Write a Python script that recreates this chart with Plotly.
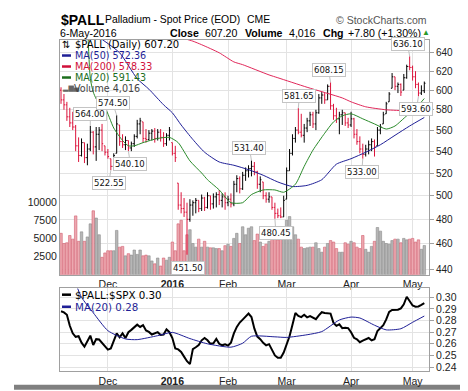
import math
import pandas as pd
import plotly.graph_objects as go

# ---------------- data ----------------
HOLIDAYS = ["2015-11-26", "2015-12-25", "2016-01-01", "2016-01-18", "2016-02-15", "2016-03-25"]
dates = [d.strftime("%Y-%m-%d") for d in pd.bdate_range("2015-11-06", "2016-05-06")
         if d.strftime("%Y-%m-%d") not in HOLIDAYS]

opens = [600, 590, 585, 573, 567, 563, 545, 536, 548, 534, 542, 558, 544, 556, 560, 545,
         539, 533, 526, 538, 565, 549, 546, 550, 543, 547, 554, 566, 568, 552, 551, 557, 559, 552, 558, 553, 547, 555,
         548, 538, 511, 492, 489, 486, 480, 492, 494, 496, 489, 498, 490, 500, 493, 499, 501, 496, 499,
         494, 497, 493, 510, 515, 506, 518, 522, 524, 526, 521, 510, 512, 500, 497, 499, 490, 485, 483, 482,
         497, 522, 538, 552, 560, 558, 555, 562, 569, 575, 566, 577, 592, 595, 590, 604, 584, 574, 571, 575, 577, 567,
         565, 571, 556, 549, 542, 537, 542, 546, 549, 545, 560, 566, 576, 588, 602, 614, 604, 606, 600, 613, 625,
         624, 614, 606, 597, 599.4]
highs = [603, 596, 588, 582, 578, 565, 553, 552, 548, 547, 564, 559, 563, 563, 566, 545,
         542, 533, 538, 574.5, 565, 556, 554, 550, 549, 556, 570, 572, 568, 561, 560, 561, 562, 561, 561, 558, 557, 563,
         548, 545, 511, 503, 498, 494, 497, 496, 498, 496, 501, 499, 503, 500, 502, 503, 505, 502, 503,
         500, 502, 513, 518, 517, 521, 525, 527, 531.4, 530, 522, 517, 512, 503, 503, 499, 494, 489, 490, 500,
         525, 542, 556, 563, 581.65, 576, 566, 572, 578, 578, 580, 596, 598, 597, 606, 608.15, 586, 582, 578, 580, 577, 572,
         578, 572, 561, 554, 547, 546, 550, 552, 551, 563, 566, 578, 588, 598, 618, 614, 608, 607, 617, 627, 636.1,
         626, 620, 608, 605, 609]
lows = [586, 580, 569, 563, 560, 540, 530, 535, 529, 527, 540, 537, 531, 541, 540, 536,
        533, 522.55, 524, 538, 545, 543, 541, 540.1, 540, 544, 552, 556, 548, 548, 550, 550, 548, 550, 549, 544, 545, 550,
        536, 530, 488, 485, 482, 451.5, 478, 483, 485, 486, 487, 487, 489, 488, 489, 490, 492, 490, 488,
        491, 490, 491, 503, 502, 505, 513, 516, 517, 518, 506, 503, 497, 494, 494, 488, 480.45, 481, 481, 482,
        497, 522, 536, 548, 556, 553, 548, 558, 564, 562, 560, 576, 586, 586, 590, 580, 570, 567, 556, 565, 564, 562,
        563, 552, 546, 538, 533.0, 535, 537, 540, 535, 545, 556, 566, 576, 588, 602, 600, 597, 594, 600, 612, 621,
        610, 602, 593.6, 595, 597]
closes = [590, 585, 573, 567, 563, 545, 536, 548, 534, 542, 558, 544, 556, 560, 547, 539,
          535, 526, 536, 566, 549, 546, 550, 543, 547, 554, 566, 569, 552, 551, 557, 559, 552, 558, 553, 547, 555, 560,
          538, 534, 492, 489, 486, 480, 492, 494, 496, 489, 498, 490, 500, 493, 499, 501, 496, 499, 494,
          497, 493, 510, 515, 506, 518, 522, 524, 526, 521, 510, 514, 500, 497, 499, 490, 485, 483, 482, 496,
          522, 538, 552, 560, 558, 555, 562, 569, 575, 566, 577, 592, 595, 590, 604, 584, 574, 571, 575, 577, 567, 565,
          571, 556, 549, 542, 537, 542, 546, 549, 544, 560, 563, 575, 586, 596, 614, 604, 606, 598, 613, 625, 624,
          614, 606, 597, 599.4, 607.2]
volumes = [5700, 4300, 4400, 5400, 4900, 8100, 4600, 5900, 4600, 5200, 7000, 8800, 7800, 5500, 2400, 3000,
           3300, 3300, 3300, 6100, 3800, 3900, 2600, 2900, 2700, 3400, 2800, 3400, 2600, 2700, 2600, 1900, 1500, 2300, 1200, 2300, 2000, 2400,
           4500, 3300, 7000, 7500, 3300, 5500, 6200, 4300, 3800, 4900, 3800, 4600, 3800, 3700, 3700, 3600, 3600, 3300, 4000,
           4200, 3900, 5000, 5700, 4300, 6600, 5500, 6400, 6600, 4700, 5600, 4500, 3900, 4200, 4600, 5800, 5400, 4800, 5500, 5800,
           7500, 8000, 6600, 5500, 4900, 3800, 3600, 3700, 3800, 3800, 4400, 3600, 3100, 3800, 4300, 4700, 4500, 3600, 3100, 3100, 4400, 4200,
           4600, 4400, 3800, 3600, 5400, 3500, 3100, 3900, 4600, 6500, 6000, 4600, 4300, 4200, 4700, 4900, 4900, 4400, 5000, 4800, 4900,
           5000, 4500, 4800, 3500, 4016]

ma50_idx = [14, 20, 26, 30, 35, 38, 41, 45, 49, 54, 59, 64, 69, 74, 79, 84, 89, 94, 99, 104, 109, 114, 119, 124]
ma50_val = [655, 640, 612, 601, 585, 577, 565, 551, 539, 530, 527, 523, 518, 512, 508, 509, 514, 528, 533, 539, 546, 555, 564, 572.36]
ma200_idx = [33, 40, 45, 48, 54, 59, 62, 71, 74, 84, 96, 99, 104, 111, 118, 124]
ma200_val = [668, 658, 653, 649, 640, 630, 627, 616, 613, 603, 592, 588, 583, 580, 579, 578.33]
ma20_idx = [9, 10, 11, 12, 13, 15, 18, 21, 23, 25, 28, 33, 37, 40, 44, 48, 50, 54, 58, 62,
            65, 69, 73, 76, 80, 83, 86, 90, 93, 96, 99, 103, 107, 111, 114, 118, 120, 124]
ma20_val = [680, 612, 598, 591, 586, 582, 562, 550, 545, 545, 548, 552, 553, 548, 531, 520, 514, 505, 494, 494,
            501, 505, 505, 503, 510, 526, 541, 557, 568, 574, 576, 571, 566, 561, 564, 574, 578, 591.43]

ratio = [.288, .287, .285, .2755, .269, .266, .2665, .261, .2575, .262, .267, .259, .264, .2637, .261, .258,
         .255, .256, .2625, .269, .2656, .269, .265, .270, .272, .274, .2765, .2745, .2761, .2715, .2702, .268, .269, .270, .2676, .268, .2725, .270,
         .265, .256, .2552, .253, .249, .245, .2425, .2555, .257, .259, .263, .265, .263, .260, .2605, .2642, .260, .2587, .2595,
         .2585, .261, .269, .2745, .2783, .2808, .2833, .286, .283, .273, .2662, .264, .2608, .2587, .2597, .2545, .250, .248, .248, .2525,
         .259, .2665, .2765, .2865, .284, .283, .285, .2828, .2838, .2825, .2812, .2845, .2872, .2865, .2865, .286, .278, .2755, .2768, .2735, .2738, .2735,
         .270, .2652, .2638, .2614, .2627, .2636, .265, .263, .264, .271, .2733, .276, .281, .2875, .2892, .2892, .2893, .2905, .294, .3005, .2966,
         .293, .292, .2922, .2935, .295]
rma_idx = [5, 7, 11, 16, 22, 26, 33, 38, 44, 50, 58, 62, 65, 73, 77, 84, 89, 95, 99, 102, 107, 111, 116, 120, 124]
rma_val = [0.312, 0.300, 0.2867, 0.2713, 0.2642, 0.2636, 0.2670, 0.2698, 0.2645, 0.2600, 0.2571, 0.2605, 0.2665,
           0.2660, 0.2655, 0.2678, 0.2705, 0.2805, 0.2830, 0.2822, 0.2760, 0.2720, 0.2730, 0.2785, 0.2839]

# labelled highs / lows: (bar index, 'H' or 'L')
marks = [(10, 'H'), (19, 'H'), (17, 'L'), (23, 'L'), (43, 'L'), (65, 'H'), (73, 'L'),
         (81, 'H'), (92, 'H'), (103, 'L'), (119, 'H'), (122, 'L')]

month_ticks = ["2015-12-01", "2016-01-04", "2016-02-01", "2016-03-01", "2016-04-01", "2016-05-02"]
month_text = ["Dec", "<b>2016</b>", "Feb", "Mar", "Apr", "May"]
price_ticks = [440, 460, 480, 500, 520, 540, 560, 580, 600, 620, 640]
vol_ticks = [2500, 5000, 7500, 10000]
vol_text = ["2500", "5000", "7500", "10000"]
ratio_ticks = [0.24, 0.25, 0.26, 0.27, 0.28, 0.29, 0.30]

# ---------------- style ----------------
W, H = 468, 391
L_, R_, T_, B_ = 52, 421, 32, 369
RED = "#dc143c"
NAVY = "#1f1f96"
GREEN = "#2a8a2a"
GRID = "#e3e3e3"
FRAME = "#a0a0a0"
SANS = "Liberation Sans, Arial, sans-serif"
VERD = "DejaVu Sans, Verdana, sans-serif"


def px(x):
    return (x - L_) / (R_ - L_)


def py(y):
    return (B_ - y) / (B_ - T_)


main_dom = [py(271), 1.0]
low_dom = [0.0, py(285)]

up = [closes[i] >= (closes[i - 1] if i > 0 else opens[0]) for i in range(len(closes))]
vol_fill = ["rgba(182,182,182,1)" if u else "rgba(236,168,176,1)" for u in up]
vol_line = ["#8c8c8c" if u else "#d46070" for u in up]

fig = go.Figure()
fig.add_trace(go.Bar(x=dates, y=volumes, xaxis="x", yaxis="y",
                     marker=dict(color=vol_fill, line=dict(color=vol_line, width=0.6)),
                     showlegend=False, hoverinfo="skip"))
fig.add_trace(go.Ohlc(x=dates, open=opens, high=highs, low=lows, close=closes,
                      xaxis="x", yaxis="y2", tickwidth=0.4,
                      increasing=dict(line=dict(color="#000000", width=1)),
                      decreasing=dict(line=dict(color=RED, width=1)),
                      showlegend=False, hoverinfo="skip"))
for idx, val, col in [(ma200_idx, ma200_val, "#e0285a"), (ma50_idx, ma50_val, NAVY), (ma20_idx, ma20_val, GREEN)]:
    fig.add_trace(go.Scatter(x=[dates[i] for i in idx], y=val, xaxis="x", yaxis="y2", mode="lines",
                             line=dict(color=col, width=1, shape="spline", smoothing=0.6),
                             showlegend=False, hoverinfo="skip"))
fig.add_trace(go.Scatter(x=dates, y=ratio, xaxis="x2", yaxis="y3", mode="lines",
                         line=dict(color="#000000", width=2), showlegend=False, hoverinfo="skip"))
fig.add_trace(go.Scatter(x=[dates[i] for i in rma_idx], y=rma_val, xaxis="x2", yaxis="y3", mode="lines",
                         line=dict(color=NAVY, width=1, shape="spline", smoothing=0.6),
                         showlegend=False, hoverinfo="skip"))

xcommon = dict(type="category", categoryorder="array", categoryarray=dates,
               range=[-0.35, len(dates) + 0.6], tickmode="array", tickvals=month_ticks, ticktext=month_text,
               showgrid=True, gridcolor=GRID, gridwidth=1, ticks="", showline=True, mirror=True,
               linecolor=FRAME, linewidth=1, tickfont=dict(family=SANS, size=10.5, color="#222"),
               zeroline=False, fixedrange=True)

price_lo, price_hi = 436.2, 654.3
fig.update_layout(
    width=W, height=H, margin=dict(l=L_, r=W - R_, t=T_, b=H - B_),
    paper_bgcolor="white", plot_bgcolor="white", bargap=0.15, showlegend=False,
    xaxis=dict(domain=[0, 1], anchor="y", rangeslider=dict(visible=False), **xcommon),
    xaxis2=dict(domain=[0, 1], anchor="y3", **xcommon),
    yaxis=dict(domain=main_dom, anchor="x", side="left", range=[0, 32300], tickmode="array",
               tickvals=vol_ticks, ticktext=vol_text, showgrid=False, zeroline=False, showline=True, mirror=True,
               linecolor=FRAME, ticks="", tickfont=dict(family=SANS, size=10.5, color="#222")),
    yaxis2=dict(overlaying="y", anchor="x", side="right", type="log",
                range=[math.log10(price_lo), math.log10(price_hi)], tickmode="array",
                tickvals=price_ticks, ticktext=[str(t) for t in price_ticks],
                showgrid=True, gridcolor=GRID, zeroline=False,
                ticks="outside", ticklen=4, tickcolor=FRAME, showline=False,
                tickfont=dict(family=SANS, size=10, color="#222")),
    yaxis3=dict(domain=low_dom, anchor="x2", side="right", range=[0.2366, 0.3076], tickmode="array",
                tickvals=ratio_ticks, tickformat=".2f", showgrid=True, gridcolor=GRID, zeroline=False,
                ticks="outside", ticklen=4, tickcolor=FRAME, showline=True, mirror=True, linecolor=FRAME,
                tickfont=dict(family=SANS, size=10.5, color="#222")),
)

ann = []


def txt(x, y, s, size=10.5, color="#000", family=SANS, xanchor="left"):
    ann.append(dict(x=px(x), y=py(y), xref="paper", yref="paper", text=s, showarrow=False,
                    xanchor=xanchor, yanchor="middle", font=dict(family=family, size=size, color=color)))


# header
txt(51, 11.5, "<b>$PALL</b>", size=14)
txt(95, 11.5, "Palladium - Spot Price (EOD)", size=10.4)
txt(237, 11.5, "CME", size=10.4)
txt(421, 11.5, "© StockCharts.com", size=10.5, color="#555", xanchor="right")
txt(50, 24.5, "6-May-2016", size=10.6)
txt(160, 24.5, "<b>Close</b>", size=10.6)
txt(195, 24.5, "607.20", size=10.6)
txt(235, 24.5, "<b>Volume</b>", size=10.6)
txt(279, 24.5, "4,016", size=10.6)
txt(313, 24.5, "<b>Chg</b>", size=10.6)
txt(338, 24.5, "+7.80 (+1.30%)", size=10.6)
txt(412, 24.5, "▲", size=8, color="#2a9a2a")

# main legend
LEG = 9.6
txt(52, 36.5, "⇅", size=10, family=VERD)
txt(65, 36.5, "$PALL (Daily) 607.20", size=10, family=VERD)
txt(65, 47.8, "MA(50) 572.36", size=LEG, family=VERD, color=NAVY)
txt(65, 59.0, "MA(200) 578.33", size=LEG, family=VERD, color="#d0103a")
txt(65, 70.2, "MA(20) 591.43", size=LEG, family=VERD, color="#1d6e1d")
txt(52, 81.0, "▂▆▄", size=7, family=VERD, color="#666")
txt(64, 81.0, "Volume 4,016", size=LEG, family=VERD, color="#444")
# lower legend
txt(65, 291.3, "$PALL:$SPX 0.30", size=10.3, family=VERD)
txt(65, 303.6, "MA(20) 0.28", size=10.3, family=VERD, color=NAVY)

shapes = []
for yy, col in [(47.8, NAVY), (59.0, "#d0103a"), (70.2, "#1d6e1d"), (291.3, "#000"), (303.6, NAVY)]:
    shapes.append(dict(type="line", xref="paper", yref="paper", x0=px(54), x1=px(63), y0=py(yy), y1=py(yy),
                       line=dict(color=col, width=2.5)))

# labelled highs/lows
offsets = {10: (0, -12), 19: (-4, -12), 17: (-2, 13), 23: (2, 13), 43: (1, 13), 65: (-2, -12), 73: (1, 14),
           81: (1, -12), 92: (-2, -12), 103: (-1, 13), 119: (-2, -12), 122: (-2, 13)}
for i, kind in marks:
    v = highs[i] if kind == "H" else lows[i]
    axp, ayp = offsets[i]
    ann.append(dict(x=dates[i], y=math.log10(v), xref="x", yref="y2", text=f"{v:.2f}",
                    showarrow=True, arrowhead=0, arrowwidth=1, arrowcolor="#c0c0c0", ax=axp, ay=ayp,
                    bgcolor="white", bordercolor="#c4c4c4", borderwidth=1, borderpad=1,
                    font=dict(family=VERD, size=8.5, color="#111")))

# drop shadow frame
shapes.append(dict(type="rect", xref="paper", yref="paper", x0=px(459), x1=px(465), y0=py(388), y1=py(6),
                   fillcolor="#808080", line=dict(width=0), layer="below"))
shapes.append(dict(type="rect", xref="paper", yref="paper", x0=px(6), x1=px(465), y0=py(388), y1=py(383),
                   fillcolor="#808080", line=dict(width=0), layer="below"))

fig.update_layout(annotations=ann, shapes=shapes)
fig.write_html("out.html")
